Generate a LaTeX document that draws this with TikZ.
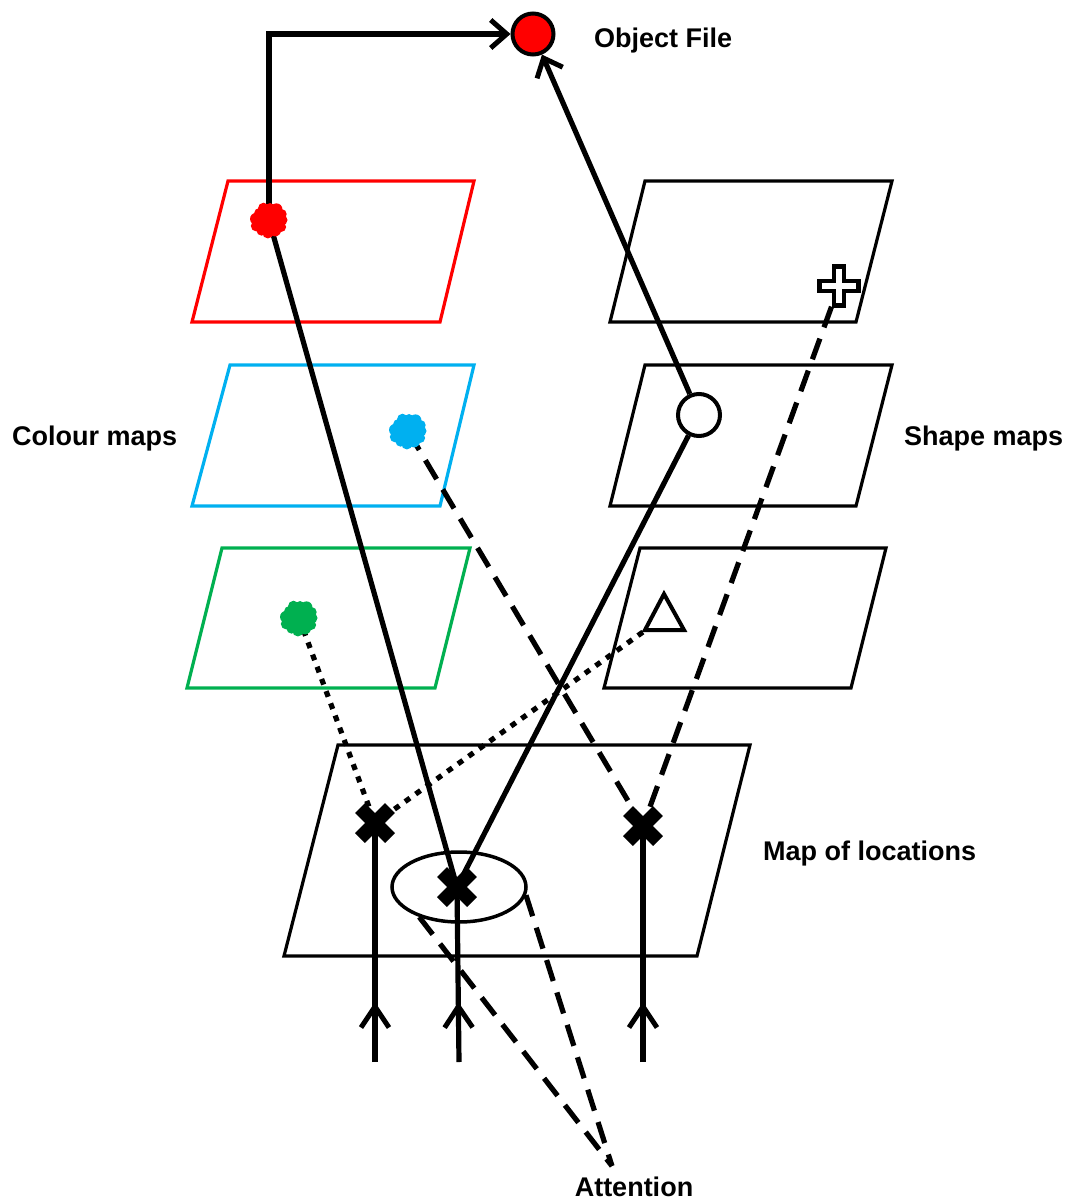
\documentclass[tikz,border=0pt]{standalone}
\usepackage{fontspec}
\setmainfont{Liberation Sans}
\usetikzlibrary{arrows.meta,decorations.markings,shapes.geometric}

\definecolor{mapred}{RGB}{255,0,0}
\definecolor{mapblue}{RGB}{0,176,240}
\definecolor{mapgreen}{RGB}{0,176,80}

\tikzset{
  x=1pt, y=-1pt,
  mapframe/.style={line width=3.2pt, line join=miter},
  conn/.style={line width=5.2pt},
  dashconn/.style={conn, dash pattern=on 22pt off 12pt},
  dotconn/.style={conn, dash pattern=on 6pt off 7pt},
  barb/.style={-{Straight Barb[length=16pt,width=28pt,line width=5pt]}},
  upbarb/.style={postaction={decorate}, decoration={markings,
      mark=at position 60pt with {\arrow[line width=5pt]{Straight Barb[length=21pt,width=28pt]}}}},
  lbl/.style={font=\fontsize{27}{32}\selectfont\bfseries, inner sep=0pt},
  xmark/.pic={\draw[line width=14pt] (-15,-15) -- (15,15) (-15,15) -- (15,-15);},
  blob/.pic={
    \fill (0,0) ellipse (14 and 13);
    \foreach \a/\r/\s in {0/13/5.5, 30/14/5, 60/12/6, 95/13/5.5, 125/13/5, 155/14/5.5,
                         185/13/6, 215/12/5, 245/13/5.5, 275/12/5, 305/13/6, 335/14/5}
      \fill (\a:\r) circle (\s);
  },
}

\begin{document}
\begin{tikzpicture}
\useasboundingbox (0,0) rectangle (1074,1202);

% colour maps
\draw[mapframe, mapred] (228,181) -- (474,181) -- (440,322) -- (192,322) -- cycle;
\draw[mapframe, mapblue] (230,365) -- (474,365) -- (440,506) -- (192,506) -- cycle;
\draw[mapframe, mapgreen] (222,548) -- (470,548) -- (435,688) -- (187,688) -- cycle;
% shape maps
\draw[mapframe] (645,181) -- (892,181) -- (856,322) -- (610,322) -- cycle;
\draw[mapframe] (645,365) -- (892,365) -- (856,506) -- (610,506) -- cycle;
\draw[mapframe] (640,548) -- (886,548) -- (851,688) -- (604,688) -- cycle;
% map of locations
\draw[mapframe] (338,745) -- (750,745) -- (697,956) -- (284,956) -- cycle;

% feature positions
\coordinate (rb) at (269,220);
\coordinate (bb) at (408,431);
\coordinate (gb) at (299,618);
\coordinate (pl) at (839,286);
\coordinate (tri) at (664,617);
\coordinate (xl) at (375,823);
\coordinate (xm) at (457,887);
\coordinate (xr) at (643,826);
\coordinate (bl) at (375,1062);
\coordinate (bm) at (459,1062);
\coordinate (br) at (643,1062);
\coordinate (att) at (612,1166);

\node[circle, draw, line width=4pt, fill=mapred, minimum size=41pt, inner sep=0pt] (obj) at (533,34) {};
\node[circle, draw, line width=4pt, fill=white, minimum size=42pt, inner sep=0pt] (sc) at (699,415) {};
\node[ellipse, draw, line width=3.5pt, minimum width=134pt, minimum height=70pt, inner sep=0pt] (el) at (459,887) {};

% connectors
\draw[conn, barb, line join=miter] (rb) |- (obj);
\draw[conn, barb] (sc) -- (obj);
\draw[conn] (rb) -- (xm);
\draw[conn] (sc) -- (xm);
\draw[dashconn] (bb) -- (xr);
\draw[dashconn, dash phase=12pt] (pl) -- (xr);
\draw[dotconn] (gb) -- (xl);
\draw[dotconn] (tri) -- (xl);
\draw[conn, upbarb] (bl) -- (xl);
\draw[conn, upbarb] (bm) -- (xm);
\draw[conn, upbarb] (br) -- (xr);
\draw[dashconn] (el.217) -- (att);
\draw[dashconn] (el.353) -- (att);

% location marks
\pic at (xl) {xmark};
\pic at (xm) {xmark};
\pic at (xr) {xmark};

% features in the maps
\pic[color=mapred] at (rb) {blob};
\pic[color=mapblue] at (bb) {blob};
\pic[color=mapgreen] at (gb) {blob};
\draw[line width=4.5pt, fill=white, line join=miter]
  (pl) ++(-5,-19.5) -- ++(10,0) -- ++(0,14.5) -- ++(14.5,0) -- ++(0,10) -- ++(-14.5,0)
  -- ++(0,14.5) -- ++(-10,0) -- ++(0,-14.5) -- ++(-14.5,0) -- ++(0,-10) -- ++(14.5,0) -- cycle;
\draw[line width=4pt, fill=white, line join=miter] (664,594) -- (684,630) -- (645,630) -- cycle;

% labels
\node[lbl, anchor=base west] (lobj) at (594,47) {Object File};
\node[lbl, anchor=base west] (lcol) at (12,445) {Colour maps};
\node[lbl, anchor=base west] (lshp) at (904,445) {Shape maps};
\node[lbl, anchor=base west] (lloc) at (763,860) {Map of locations};
\node[lbl, anchor=base] (latt) at (634,1196) {Attention};
\end{tikzpicture}
\end{document}
